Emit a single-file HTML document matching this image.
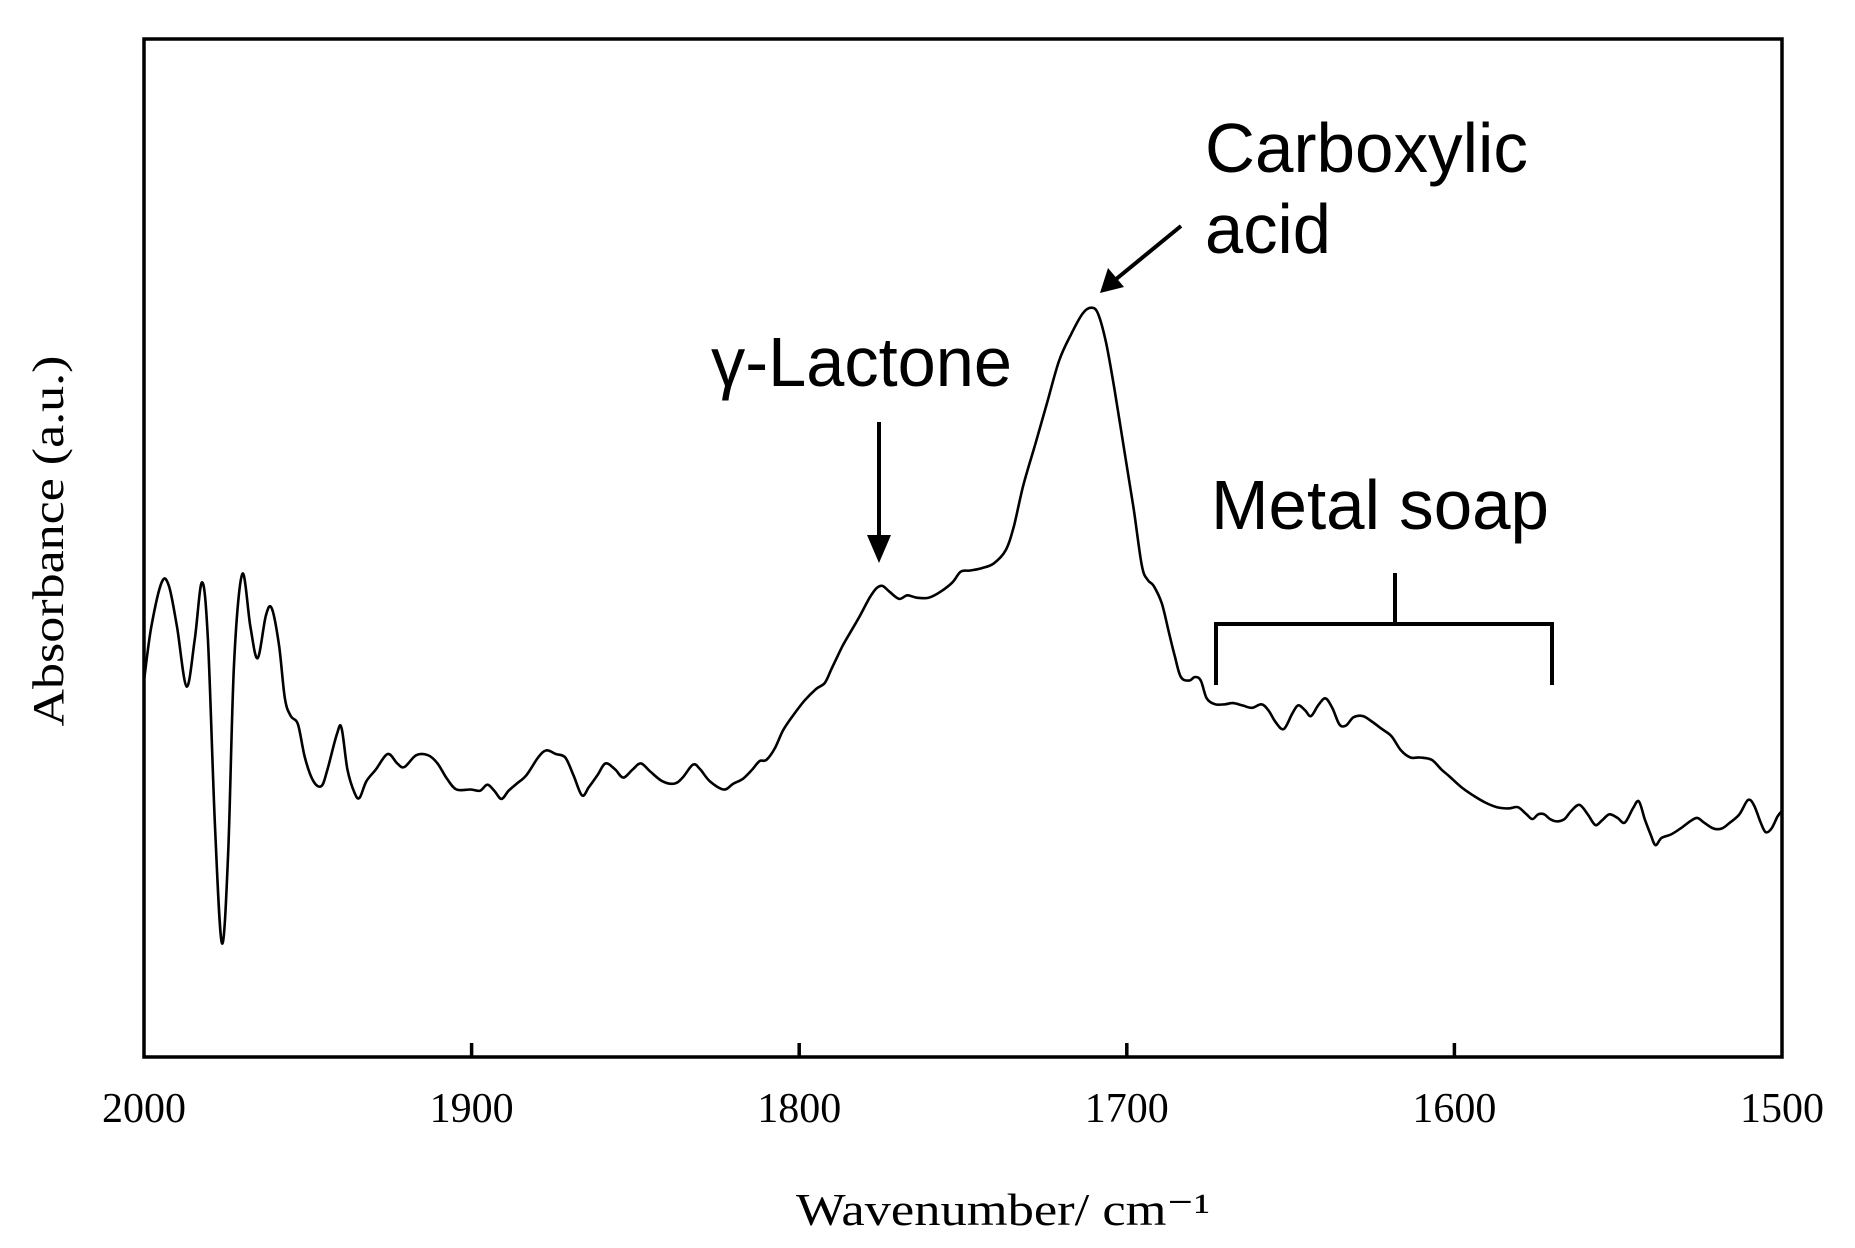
<!DOCTYPE html>
<html><head><meta charset="utf-8"><style>html,body{margin:0;padding:0;background:#fff}svg{display:block}</style></head>
<body>
<svg id="chart" width="1855" height="1248" viewBox="0 0 1855 1248" xmlns="http://www.w3.org/2000/svg">
<rect x="144" y="39" width="1638" height="1018" fill="none" stroke="#000" stroke-width="3.5"/>
<g id="ticks"></g>
<path id="spectrum" fill="none" stroke="#000" stroke-width="2.6" stroke-linejoin="round"/>
<text x="53" y="541" transform="rotate(-90 53 541)" text-anchor="middle" dominant-baseline="middle" font-family="Liberation Serif, serif" font-size="44" textLength="371" lengthAdjust="spacingAndGlyphs">Absorbance (a.u.)</text>
<text x="1003" y="1225" text-anchor="middle" font-family="Liberation Serif, serif" font-size="46" textLength="414" lengthAdjust="spacingAndGlyphs">Wavenumber/ cm⁻¹</text>
<g font-family="Liberation Sans, sans-serif" font-size="70" fill="#000">
<text x="1205" y="172" textLength="323" lengthAdjust="spacingAndGlyphs">Carboxylic</text>
<text x="1205" y="253" textLength="126" lengthAdjust="spacingAndGlyphs">acid</text>
<text x="711" y="386" textLength="301" lengthAdjust="spacingAndGlyphs">γ-Lactone</text>
<text x="1211" y="529" textLength="338" lengthAdjust="spacingAndGlyphs">Metal soap</text>
</g>
<g stroke="#000" stroke-width="4" fill="none">
<line x1="1181" y1="226" x2="1115" y2="280"/>
<polygon points="1100,293 1108,268 1124,287" fill="#000" stroke="none"/>
<line x1="879" y1="422" x2="879" y2="540"/>
<polygon points="879,563 867,535 891,535" fill="#000" stroke="none"/>
<line x1="1395" y1="573" x2="1395" y2="624"/>
<polyline points="1216,685 1216,624 1552,624 1552,685"/>
</g>
</svg>
<script>
const wavenumbers=[2000,1997.8,1994.6,1992.4,1989.9,1987.0,1984.5,1982.3,1980.5,1978.3,1976.2,1974.3,1972.5,1970.0,1967.5,1965.3,1962.8,1961.0,1958.8,1957.0,1955.2,1953.0,1950.9,1948.3,1945.8,1944.0,1941.1,1939.7,1937.9,1935.7,1934.2,1932.1,1929.2,1925.6,1922.7,1920.5,1916.9,1913.3,1910.4,1907.5,1904.6,1900.3,1897.4,1895.2,1893.1,1890.9,1888.7,1886.2,1883.3,1879.7,1877.2,1874.3,1871.4,1868.9,1866.3,1864.2,1861.6,1859.1,1856.2,1853.7,1850.8,1848.3,1845.4,1841.8,1838.1,1835.6,1832.4,1830.2,1827.3,1823.0,1820.1,1817.2,1814.3,1812.1,1810.0,1807.4,1804.9,1802.0,1798.4,1794.8,1792.2,1790.1,1786.8,1783.9,1781.4,1778.5,1776.4,1774.6,1772.4,1769.5,1767.0,1764.1,1760.5,1756.9,1753.2,1750.7,1747.8,1744.2,1740.6,1737.0,1734.5,1731.6,1727.9,1724.3,1720.7,1717.1,1713.5,1710.9,1708.8,1706.3,1703.7,1700.8,1697.9,1695.4,1693.6,1691.8,1689.3,1687.1,1685.3,1683.5,1681.0,1679.2,1677.4,1675.6,1673.0,1670.1,1667.6,1664.7,1661.8,1658.9,1656.8,1654.6,1652.1,1649.5,1647.7,1645.6,1643.8,1641.6,1639.4,1637.3,1635.1,1633.1,1630.8,1627.9,1625.0,1622.1,1619.2,1616.3,1613.4,1610.5,1606.9,1604.0,1601.5,1597.9,1594.3,1590.6,1587.0,1583.4,1580.6,1578.0,1576.2,1574.4,1572.6,1570.8,1568.6,1566.4,1564.3,1561.8,1559.3,1557.0,1554.9,1552.7,1550.2,1548.0,1545.5,1543.7,1541.9,1540.1,1538.6,1536.8,1533.9,1531.0,1528.1,1525.9,1523.8,1520.9,1518.4,1515.9,1513.0,1510.4,1508.6,1506.5,1505.0,1503.2,1501.4,1500];
const absorbance=[318,363,401,398,363,313,353,401,353,193,96,173,333,408,363,337,373,379,348,303,288,281,253,233,229,243,273,278,243,223,219,233,243,256,248,245,255,255,248,235,226,226,225,230,225,218,225,231,238,253,259,256,253,238,221,228,238,248,243,236,243,248,241,233,231,236,247,243,233,226,231,235,243,250,251,261,276,288,301,311,316,328,347,361,373,388,396,398,393,387,390,388,388,393,401,410,411,413,417,428,448,483,518,553,588,610,628,633,628,603,563,513,463,415,403,398,383,358,338,321,318,321,318,303,298,298,299,297,295,298,293,283,277,290,297,293,288,297,303,295,281,280,287,288,283,277,271,259,253,253,251,243,237,228,221,215,211,210,211,205,201,205,205,201,199,201,208,213,205,196,200,205,202,198,210,216,201,188,179,185,188,193,199,202,198,193,193,198,205,217,213,198,190,193,203,208];
const tickValues=[2000,1900,1800,1700,1600,1500];
const tickLabels=["2000","1900","1800","1700","1600","1500"];
const X0=144,X1=1782,Y0=1057,Y1=39,WMAX=2000,WMIN=1500,AMAX=860;
function xScale(w){return X0+(WMAX-w)/(WMAX-WMIN)*(X1-X0);}
function yScale(a){return Y0-a/AMAX*(Y0-Y1);}
const NS="http://www.w3.org/2000/svg";
const n=Math.min(wavenumbers.length,absorbance.length);
const pts=[];for(let i=0;i<n;i++)pts.push([xScale(wavenumbers[i]),yScale(absorbance[i])]);
let d="M"+pts[0][0].toFixed(1)+","+pts[0][1].toFixed(1);
for(let i=0;i<pts.length-1;i++){const p0=pts[i-1]||pts[i],p1=pts[i],p2=pts[i+1],p3=pts[i+2]||p2;
const c1x=p1[0]+(p2[0]-p0[0])/6,c1y=p1[1]+(p2[1]-p0[1])/6,c2x=p2[0]-(p3[0]-p1[0])/6,c2y=p2[1]-(p3[1]-p1[1])/6;
d+=" C"+c1x.toFixed(1)+","+c1y.toFixed(1)+" "+c2x.toFixed(1)+","+c2y.toFixed(1)+" "+p2[0].toFixed(1)+","+p2[1].toFixed(1);}
document.getElementById('spectrum').setAttribute('d',d);
const tg=document.getElementById('ticks');
tickValues.forEach((v,i)=>{const x=xScale(v);
if(i>0&&i<tickValues.length-1){const l=document.createElementNS(NS,'line');
l.setAttribute('x1',x);l.setAttribute('x2',x);l.setAttribute('y1',Y0);l.setAttribute('y2',Y0-14);l.setAttribute('stroke','#000');l.setAttribute('stroke-width','3.5');


tg.appendChild(l);}
const t=document.createElementNS(NS,'text');t.setAttribute('x',x);t.setAttribute('y',1122);t.setAttribute('text-anchor','middle');
t.setAttribute('font-family','Liberation Serif, serif');t.setAttribute('font-size','42');t.textContent=tickLabels[i];


tg.appendChild(t);});
</script>
</body></html>
